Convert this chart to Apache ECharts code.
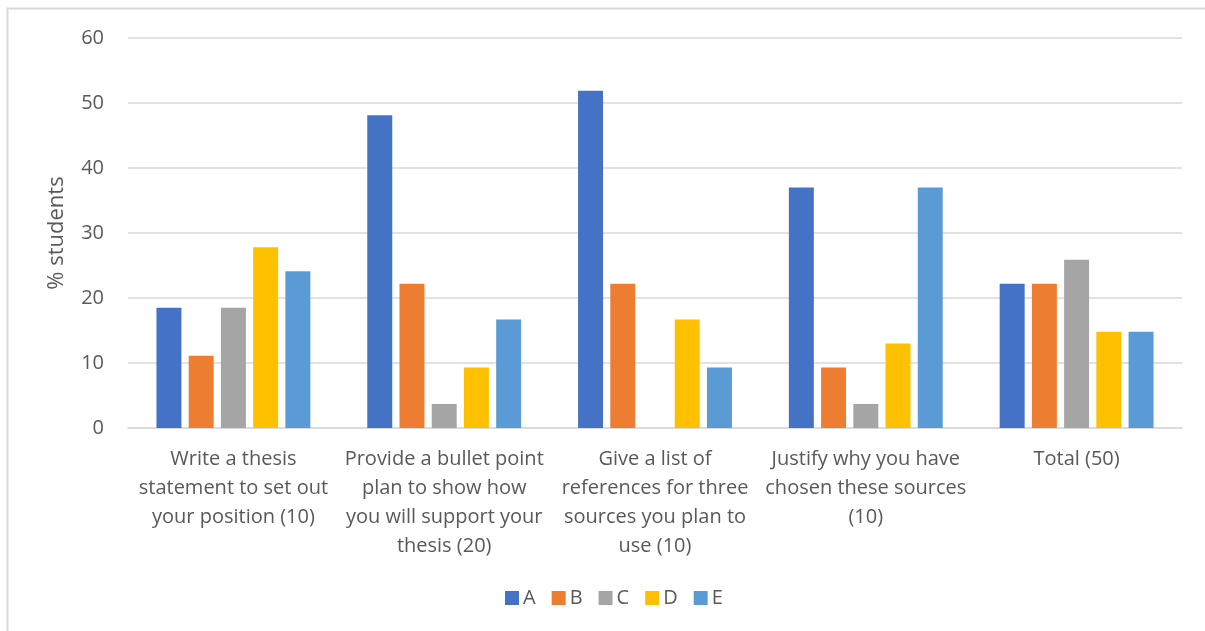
<!DOCTYPE html>
<html>
<head>
<meta charset="utf-8">
<script src="https://cdn.jsdelivr.net/npm/echarts@6/dist/echarts.min.js"></script>
<style>
  html, body { margin: 0; padding: 0; background: #fff; }
  #chart { width: 1205px; height: 631px; }
</style>
</head>
<body>
<div id="chart"></div>
<script>
// Task categories (wrapped onto several lines under the axis)
const categories = [
  'Write a thesis\nstatement to set out\nyour position (10)',
  'Provide a bullet point\nplan to show how\nyou will support your\nthesis (20)',
  'Give a list of\nreferences for three\nsources you plan to\nuse (10)',
  'Justify why you have\nchosen these sources\n(10)',
  'Total (50)'
];

// Percentage of students per grade
const gradeA = [18.5, 48.1, 51.9, 37.0, 22.2];
const gradeB = [11.1, 22.2, 22.2, 9.3, 22.2];
const gradeC = [18.5, 3.7, 0, 3.7, 25.9];
const gradeD = [27.8, 9.3, 16.7, 13.0, 14.8];
const gradeE = [24.1, 16.7, 9.3, 37.0, 14.8];

const seriesNames = ['A', 'B', 'C', 'D', 'E'];
const seriesData = [gradeA, gradeB, gradeC, gradeD, gradeE];
const colors = ['#4472C4', '#ED7D31', '#A5A5A5', '#FFC000', '#5B9BD5'];

const textColor = '#595959';
const fontFamily = '"Open Sans", "Liberation Sans", sans-serif';

const chart = echarts.init(document.getElementById('chart'), null, { renderer: 'canvas' });

chart.setOption({
  animation: false,
  color: colors,
  textStyle: { fontFamily: fontFamily, color: textColor },
  grid: { left: 128, right: 23, top: 38, bottom: 203, containLabel: false },
  graphic: [
    {
      type: 'polyline',
      shape: { points: [[7.5, 631], [7.5, 8.5], [1205, 8.5]] },
      style: { stroke: '#D9D9D9', lineWidth: 2, fill: null },
      silent: true
    }
  ],
  legend: {
    data: seriesNames,
    top: 588,
    left: 505,
    padding: 0,
    itemWidth: 14,
    itemHeight: 14,
    itemGap: 16,
    icon: 'rect',
    textStyle: { color: textColor, fontSize: 20, fontFamily: fontFamily, padding: [0, 0, 0, -1] }
  },
  xAxis: {
    type: 'category',
    data: categories,
    axisLine: { show: true, lineStyle: { color: '#D9D9D9', width: 1.5 } },
    axisTick: { show: false },
    axisLabel: {
      color: textColor,
      fontSize: 20,
      fontFamily: fontFamily,
      lineHeight: 29,
      margin: 17,
      interval: 0,
      align: 'center'
    }
  },
  yAxis: {
    type: 'value',
    min: 0,
    max: 60,
    interval: 10,
    name: '% students',
    nameLocation: 'middle',
    nameGap: 60,
    nameRotate: 90,
    nameTextStyle: { color: textColor, fontSize: 22, fontFamily: fontFamily },
    axisLine: { show: false },
    axisTick: { show: false },
    axisLabel: { color: textColor, fontSize: 20, fontFamily: fontFamily, margin: 24 },
    splitLine: { lineStyle: { color: '#D9D9D9', width: 1.5 } }
  },
  series: seriesNames.map((name, i) => ({
    name: name,
    type: 'bar',
    data: seriesData[i],
    barGap: '29%',
    barCategoryGap: '27%',
    itemStyle: { color: colors[i] }
  }))
});
</script>
</body>
</html>
